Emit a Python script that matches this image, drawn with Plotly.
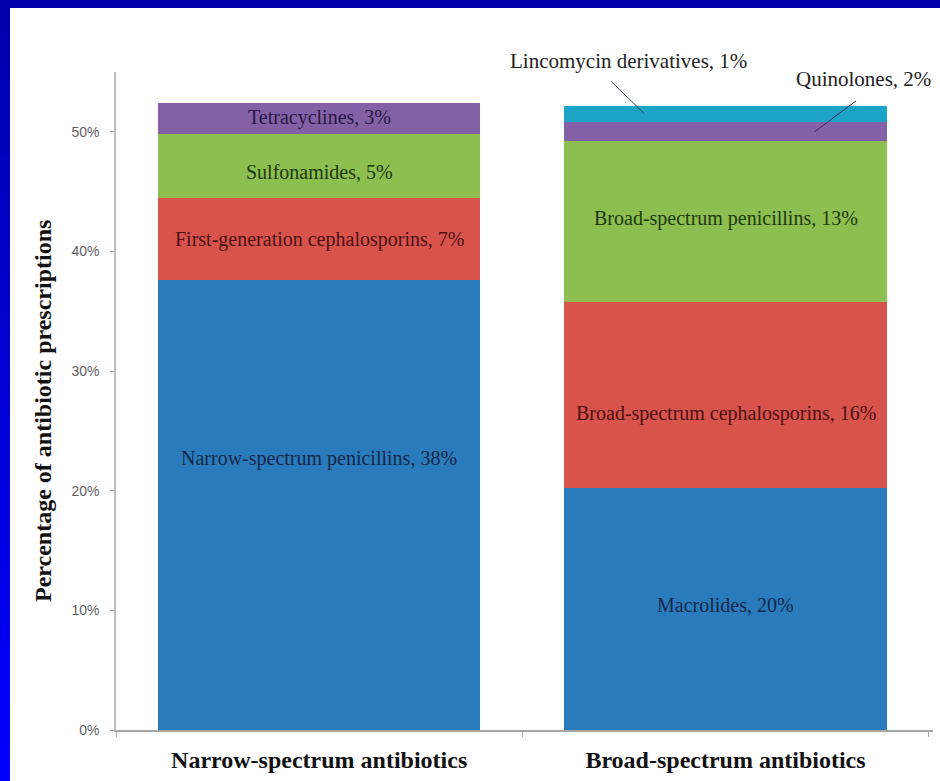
import plotly.graph_objects as go

# Categories on the x axis
categories = ["Narrow-spectrum antibiotics", "Broad-spectrum antibiotics"]

# Narrow-spectrum stack (bottom to top), % of antibiotic prescriptions
narrow_names = ["Narrow-spectrum penicillins", "First-generation cephalosporins",
                "Sulfonamides", "Tetracyclines"]
narrow_values = [37.6, 6.9, 5.3, 2.6]

# Broad-spectrum stack (bottom to top)
broad_names = ["Macrolides", "Broad-spectrum cephalosporins",
               "Broad-spectrum penicillins", "Quinolones", "Lincomycin derivatives"]
broad_values = [20.2, 15.6, 13.4, 1.6, 1.4]

y_ticks = [0, 10, 20, 30, 40, 50]
y_tick_labels = ["0%", "10%", "20%", "30%", "40%", "50%"]

# Styling
narrow_colors = ["#2a7bbb", "#d9534d", "#8ebd50", "#8461a6"]
broad_colors = ["#2a7bbb", "#d9534d", "#8ebd50", "#8461a6", "#1ca4c7"]
narrow_text_colors = ["#14284a", "#4a1210", "#1d3a0c", "#2a1745"]
broad_text_colors = ["#14284a", "#4a1210", "#1d3a0c", None, None]
narrow_label_shift = [47, -1, -6, 1]          # px offset of in-bar labels
broad_label_shift = [4, -18, 3, None, None]

SERIF = "Liberation Serif, Times New Roman, serif"
SANS = "Liberation Sans, Arial, sans-serif"

fig = go.Figure()

# One trace per stacked segment
for name, v, c in zip(narrow_names, narrow_values, narrow_colors):
    fig.add_trace(go.Bar(x=[categories[0]], y=[v], name=name, marker_color=c,
                         marker_line_width=0, showlegend=False, hoverinfo="skip"))
for name, v, c in zip(broad_names, broad_values, broad_colors):
    fig.add_trace(go.Bar(x=[categories[1]], y=[v], name=name, marker_color=c,
                         marker_line_width=0, showlegend=False, hoverinfo="skip"))

annotations = []


def segment_labels(cat, names, values, tcolors, shifts):
    base = 0.0
    mids = []
    for name, v, tc, sh in zip(names, values, tcolors, shifts):
        mid = base + v / 2
        mids.append(mid)
        if tc is not None:
            annotations.append(dict(
                x=cat, y=mid, xref="x", yref="y", yshift=sh,
                text=f"{name}, {round(v)}%", showarrow=False,
                font=dict(family=SERIF, size=20, color=tc)))
        base += v
    return mids, base


segment_labels(categories[0], narrow_names, narrow_values,
               narrow_text_colors, narrow_label_shift)
broad_mids, broad_total = segment_labels(categories[1], broad_names, broad_values,
                                         broad_text_colors, broad_label_shift)

# Callout labels for the two thin segments at the top of the broad stack
lin_i, qui_i = 4, 3
annotations.append(dict(
    x=categories[1], y=broad_total, xref="x", yref="y", xshift=-97, yshift=45,
    text=f"{broad_names[lin_i]}, {round(broad_values[lin_i])}%", showarrow=False,
    font=dict(family=SERIF, size=21, color="#222222")))
annotations.append(dict(
    x=categories[1], y=broad_total, xref="x", yref="y", xshift=138, yshift=27,
    text=f"{broad_names[qui_i]}, {round(broad_values[qui_i])}%", showarrow=False,
    font=dict(family=SERIF, size=21, color="#222222")))
# Leader lines
annotations.append(dict(
    x=categories[1], y=broad_mids[lin_i], xref="x", yref="y", xshift=-81,
    text="", showarrow=True, arrowhead=0, arrowwidth=1, arrowcolor="#3a4a5a",
    ax=-35, ay=-34, standoff=0, startstandoff=0))
annotations.append(dict(
    x=categories[1], y=broad_mids[qui_i], xref="x", yref="y", xshift=89,
    text="", showarrow=True, arrowhead=0, arrowwidth=1, arrowcolor="#3a2a5a",
    ax=43, ay=-32, standoff=0, startstandoff=0))

# Y-axis title
annotations.append(dict(
    x=-73 / 817, y=0.5, xref="paper", yref="paper", yshift=-10,
    text="<b>Percentage of antibiotic prescriptions</b>", textangle=-90,
    showarrow=False, xanchor="center", yanchor="middle",
    font=dict(family=SERIF, size=24, color="#111111")))

# Blue frame: top band and a left band shading from dark to bright blue
W_PLOT, H_PLOT = 817, 658
L, B = 116, 51
shapes = [dict(type="rect", xref="paper", yref="paper",
               x0=-L / W_PLOT, x1=(940 - L) / W_PLOT,
               y0=(730 - 8) / H_PLOT, y1=730 / H_PLOT + 0.01,
               fillcolor="rgb(0,0,172)", line_width=0, layer="above")]
n = 40
for i in range(n):
    t = i / (n - 1)
    b = int(172 + (255 - 172) * t)
    y_top = 730 - (781 * i / n)
    y_bot = 730 - (781 * (i + 1) / n)
    shapes.append(dict(type="rect", xref="paper", yref="paper",
                       x0=-L / W_PLOT - 0.01, x1=(10 - L) / W_PLOT,
                       y0=y_bot / H_PLOT - 0.002, y1=y_top / H_PLOT + 0.002,
                       fillcolor=f"rgb(0,0,{b})", line_width=0, layer="above"))

fig.update_layout(
    barmode="stack",
    bargap=0.207,
    width=940, height=781,
    margin=dict(l=L, r=7, t=72, b=B, autoexpand=False),
    paper_bgcolor="white", plot_bgcolor="white",
    annotations=annotations,
    shapes=shapes,
)

fig.update_xaxes(
    type="category",
    showline=True, linecolor="#a6a6a6", linewidth=1.5,
    ticks="outside", tickson="boundaries", ticklen=5, tickcolor="#a6a6a6",
    tickfont=dict(family=SERIF, size=24, color="#111111", weight="bold"),
    ticklabelstandoff=7,
    showgrid=False, zeroline=False, automargin=False,
)
fig.update_yaxes(
    range=[0, 55],
    tickmode="array", tickvals=y_ticks, ticktext=y_tick_labels,
    showline=True, linecolor="#bfbfbf", linewidth=1.5,
    ticks="outside", ticklen=4, tickcolor="#a6a6a6",
    tickfont=dict(family=SANS, size=14, color="#5f5f5f"),
    ticklabelstandoff=8,
    showgrid=False, zeroline=False, automargin=False,
)

fig.write_html("out.html")
